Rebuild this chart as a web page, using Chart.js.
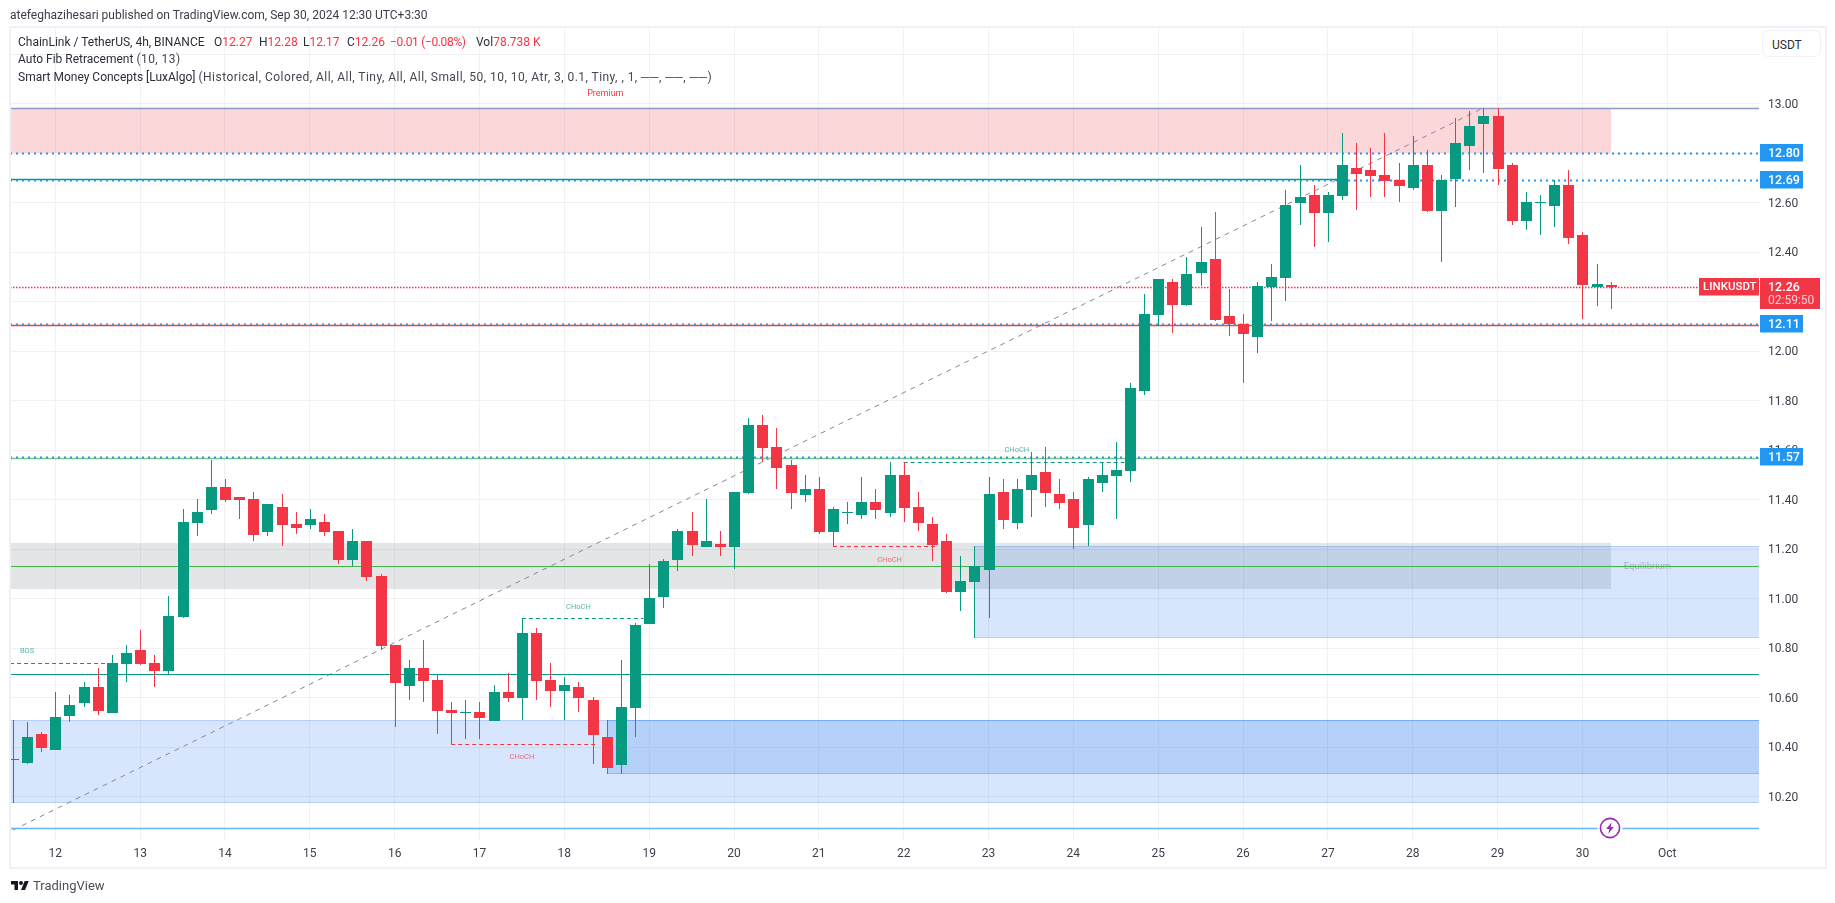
<!DOCTYPE html>
<html>
<head>
<meta charset="utf-8">
<title>LINKUSDT</title>
<script src="https://cdn.jsdelivr.net/npm/chart.js@4/dist/chart.umd.js"></script>
<style>
html,body{margin:0;padding:0;background:#fff;width:1835px;height:903px;overflow:hidden}
body{font-family:Roboto,sans-serif;color:#2a2e39;position:relative}
canvas{position:absolute;left:0;top:0}
.t{position:absolute;white-space:nowrap;font-size:12px;line-height:16px}
.r{color:#f23645}
.g{color:#434651;letter-spacing:.46px}
#frame{position:absolute;left:9px;top:26px;width:1814px;height:839px;border:2px solid #eff1f6;pointer-events:none}
#cur{position:absolute;left:1762px;top:30px;width:57px;height:25px;border:1.5px solid #eff1f6;border-radius:6px;background:#fff}
svg{position:absolute}
</style>
</head>
<body>
<canvas id="c" width="1835" height="903"></canvas>
<div id="frame"></div>
<div id="cur"></div>
<div class="t" style="left:1772px;top:37px">USDT</div>
<div class="t" style="left:10px;top:7px;color:#3a3e49">atefeghazihesari published on TradingView.com, Sep 30, 2024 12:30 UTC+3:30</div>
<div class="t" style="left:18px;top:34px">ChainLink / TetherUS, 4h, BINANCE</div>
<div class="t" style="left:214px;top:34px">O<span class="r">12.27</span></div>
<div class="t" style="left:259px;top:34px">H<span class="r">12.28</span></div>
<div class="t" style="left:303px;top:34px">L<span class="r">12.17</span></div>
<div class="t" style="left:347px;top:34px">C<span class="r">12.26</span></div>
<div class="t r" style="left:390px;top:34px;letter-spacing:-.35px">−0.01 (−0.08%)</div>
<div class="t" style="left:476px;top:34px">Vol<span class="r">78.738 K</span></div>
<div class="t" style="left:18px;top:51px">Auto Fib Retracement <span class="g">(10, 13)</span></div>
<div class="t" style="left:18px;top:69px">Smart Money Concepts [LuxAlgo] <span class="g">(Historical, Colored, All, All, Tiny, All, All, Small, 50, 10, 10, Atr, 3, 0.1, Tiny, , 1, ──, ──, ──)</span></div>
<svg style="left:10px;top:880px" width="20" height="11" viewBox="0 0 36 22"><path fill="#131722" d="M14 20H7V9H0V2h14v18zM28 20h-8l7.5-18h8L28 20z"/><circle cx="20" cy="6" r="4" fill="#131722"/></svg>
<div class="t" style="left:33px;top:878px;font-size:13px;color:#4a4e59">TradingView</div>
<svg style="left:1597px;top:815px" width="26" height="26" viewBox="0 0 26 26"><circle cx="13" cy="13" r="12.5" fill="#fff"/><circle cx="13" cy="13" r="9.6" fill="#fff" stroke="#9c27b0" stroke-width="1.6"/><path fill="#9c27b0" d="M14.6 7.2 9.2 13.9h3.2l-1.1 4.9 5.5-6.9h-3.2z"/></svg>
<script>
// Candle position counted in 4h bars from the Sep 12 gridline
const firstBar = -3;
const opens = [10.351,10.336,10.454,
 10.389,10.526,10.579,10.644,10.538,10.736,10.793,10.740,10.708,10.926,
 11.306,11.359,11.452,11.412,11.403,11.270,11.371,11.302,11.298,11.310,
 11.274,11.157,11.234,11.092,10.813,10.648,10.720,10.672,10.551,10.539,
 10.543,10.506,10.623,10.599,10.862,10.672,10.627,10.644,10.591,10.441,
 10.328,10.559,10.898,11.007,11.157,11.274,11.209,11.222,11.209,11.428,
 11.703,11.614,11.541,11.420,11.444,11.270,11.347,11.339,11.391,11.347,
 11.500,11.371,11.302,11.234,11.028,11.068,11.117,11.432,11.306,11.440,
 11.513,11.424,11.403,11.298,11.468,11.496,11.517,11.840,12.147,12.281,
 12.188,12.317,12.374,12.143,12.111,12.058,12.260,12.297,12.600,12.632,
 12.559,12.628,12.741,12.733,12.713,12.693,12.660,12.753,12.567,12.697,
 12.830,12.919,12.951,12.753,12.527,12.600,12.588,12.673,12.471,12.260,12.27];
const closes = [10.351,10.441,10.397,
 10.522,10.571,10.644,10.546,10.740,10.781,10.736,10.708,10.931,11.310,
 11.351,11.452,11.399,11.399,11.258,11.383,11.298,11.286,11.323,11.270,
 11.157,11.234,11.088,10.809,10.660,10.720,10.668,10.546,10.538,10.543,
 10.518,10.623,10.599,10.862,10.668,10.627,10.652,10.599,10.450,10.316,
 10.563,10.894,11.003,11.153,11.274,11.218,11.234,11.209,11.432,11.703,
 11.610,11.529,11.428,11.444,11.270,11.363,11.351,11.391,11.359,11.500,
 11.367,11.306,11.218,11.028,11.072,11.133,11.424,11.319,11.444,11.500,
 11.428,11.387,11.286,11.484,11.500,11.521,11.852,12.151,12.293,12.188,
 12.313,12.361,12.127,12.111,12.070,12.264,12.301,12.592,12.624,12.559,
 12.632,12.753,12.717,12.709,12.689,12.669,12.753,12.567,12.693,12.842,
 12.911,12.951,12.737,12.527,12.604,12.604,12.673,12.458,12.268,12.273,12.26];
const highs = [10.510,10.502,10.462,
 10.623,10.611,10.664,10.720,10.773,10.813,10.874,10.773,11.011,11.363,
 11.403,11.561,11.484,11.412,11.432,11.383,11.424,11.351,11.363,11.343,
 11.274,11.282,11.234,11.100,10.813,10.753,10.834,10.692,10.583,10.591,
 10.583,10.652,10.700,10.921,10.882,10.741,10.684,10.664,10.603,10.510,
 10.753,10.902,11.141,11.161,11.282,11.351,11.404,11.274,11.432,11.731,
 11.743,11.690,11.561,11.500,11.492,11.371,11.391,11.492,11.444,11.553,
 11.553,11.432,11.331,11.262,11.173,11.213,11.492,11.484,11.484,11.593,
 11.614,11.484,11.432,11.492,11.553,11.634,11.872,12.232,12.293,12.293,
 12.382,12.503,12.563,12.252,12.151,12.281,12.353,12.652,12.753,12.673,
 12.644,12.883,12.842,12.822,12.883,12.762,12.871,12.814,12.713,12.943,
 12.972,12.984,12.984,12.762,12.644,12.632,12.693,12.733,12.483,12.353,12.28];
const lows = [10.173,10.332,10.381,
 10.389,10.502,10.563,10.530,10.538,10.664,10.732,10.644,10.696,10.922,
 11.254,11.343,11.391,11.323,11.234,11.254,11.213,11.262,11.282,11.254,
 11.141,11.133,11.072,10.793,10.482,10.591,10.583,10.454,10.412,10.433,
 10.433,10.506,10.583,10.510,10.591,10.563,10.510,10.543,10.332,10.292,
 10.292,10.441,10.898,10.963,11.112,11.173,11.209,11.173,11.121,11.424,
 11.553,11.444,11.363,11.391,11.262,11.213,11.302,11.323,11.323,11.331,
 11.311,11.274,11.153,11.024,10.951,10.843,10.922,11.282,11.282,11.331,
 11.371,11.363,11.201,11.213,11.432,11.323,11.472,11.824,12.103,12.074,
 12.184,12.264,12.123,12.062,11.872,11.994,12.123,12.204,12.511,12.422,
 12.442,12.612,12.572,12.624,12.624,12.604,12.652,12.563,12.361,12.584,
 12.733,12.721,12.673,12.511,12.491,12.471,12.503,12.434,12.131,12.184,12.17];

// Time axis: each day is six 4h bars
const dayLabels = ['12','13','14','15','16','17','18','19','20','21','22','23','24','25','26','27','28','29','30','Oct'];
const barsPerDay = 6;
// Price axis
const priceTicks = [10.2,10.4,10.6,10.8,11.0,11.2,11.4,11.6,11.8,12.0,12.2,12.4,12.6,12.8,13.0,13.2];
const hiddenPriceLabels = [13.2];
// Zones, price bands
const premiumBand = [12.803,12.983];
const equilibriumBand = [11.040,11.226];
const orderBlockA = [10.843,11.212];
const orderBlockB = [10.173,10.510];
const orderBlockC = [10.293,10.510];
const zoneEndBar = 110;
const orderBlockAStart = 65;
const orderBlockCStart = 39;
// Horizontal levels
const levelBlueDotted = [12.803,12.693,12.112,11.573];
const levelBlueLabels = ['12.80','12.69','12.11','11.57'];
const levelTeal1269 = 12.696;
const levelTeal1269End = 91;
const levelRed1211 = 12.108;
const levelGreen1157 = 11.567;
const levelGreen1113 = 11.131;
const levelTeal1070 = 10.695;
const levelSky1007 = 10.072;
const levelTop = 12.983;
const lastPrice = 12.26;
// Fib trend line
const fibBars = [-3,101];
const fibPrices = [10.065,12.984];
// Structure breaks: start bar, end bar, price
const bosLine = [-3.2,4,10.739];
const chochUp1 = [33,41.6,10.921];
const chochUp2 = [60,75.6,11.551];
const chochDown1 = [28,38.4,10.412];
const chochDown2 = [55,62.4,11.212];

const GREEN='#089981', RED='#f23645', BLUE='#2196f3';
const xMin=-3.204, xMax=120.49;
const bars = opens.map((_,i)=>i+firstBar);
const colors = opens.map((o,i)=>closes[i]>=o?GREEN:RED);

function hline(y,x0,x1,color,width,dash,order){
  return {type:'line',data:[{x:x0,y},{x:x1,y}],borderColor:color,borderWidth:width,borderDash:dash||[],
    pointRadius:0,pointHoverRadius:0,tension:0,order:order||5,hline:true};
}
const lineSets = [
  hline(levelTop,xMin,xMax,'#8a9ac6',1.3),
  hline(levelTeal1269,xMin,levelTeal1269End,GREEN,1.5),
  hline(levelRed1211,xMin,xMax,'#f44336',1.5),
  hline(levelGreen1157,xMin,xMax,'#81c784',1.3),
  hline(levelGreen1113,xMin,xMax,'#43b649',1.2),
  hline(levelTeal1070,xMin,xMax,GREEN,1.1),
  hline(levelSky1007,xMin,xMax,'#64b5f6',1.3),
  hline(lastPrice,xMin,xMax,'#ff2d42',1.4,[1.5,1.5]),
  hline(bosLine[2],bosLine[0],bosLine[1],GREEN,1,[4,3]),
  hline(chochUp1[2],chochUp1[0],chochUp1[1],GREEN,1,[4,3]),
  hline(chochUp2[2],chochUp2[0],chochUp2[1],GREEN,1,[4,3]),
  hline(chochDown1[2],chochDown1[0],chochDown1[1],RED,1,[4,3]),
  hline(chochDown2[2],chochDown2[0],chochDown2[1],RED,1,[4,3]),
  {type:'line',data:fibBars.map((b,i)=>({x:b,y:fibPrices[i]})),borderColor:'#868993',borderWidth:1,borderDash:[5,5],pointRadius:0,tension:0,order:5}
];
levelBlueDotted.forEach((v,i)=>lineSets.push(hline(v,xMin,xMax,i===2?'#3d8fe0':BLUE,2,[2,4],4)));

const wickSet = {type:'bar',label:'wick',data:bars.map((b,i)=>({x:b,y:[lows[i],highs[i]]})),backgroundColor:colors,barThickness:1,grouped:false,inflateAmount:0,order:2,candle:1};
const bodySet = {type:'bar',label:'body',data:bars.map((b,i)=>({x:b,y:[opens[i],closes[i]]})),backgroundColor:colors,barThickness:11,grouped:false,inflateAmount:0,order:1,candle:11};

const snapPlugin = {id:'snap',
  afterDatasetsUpdate(chart){
    const x=chart.scales.x,y=chart.scales.y;
    chart.data.datasets.forEach((ds,di)=>{
      const meta=chart.getDatasetMeta(di);
      if(ds.candle){
        meta.data.forEach((el,i)=>{
          el.x=Math.round(x.getPixelForValue(bars[i]))+0.5;
          el.width=ds.candle;
          let a=Math.round(y.getPixelForValue(ds.data[i].y[0]));
          let b=Math.round(y.getPixelForValue(ds.data[i].y[1]));
          if(a===b)b=a+1;
          el.y=Math.min(a,b);el.base=Math.max(a,b);
        });
      } else if(ds.hline){
        meta.data.forEach(el=>{el.y=Math.round(el.y)+0.5;});
      }
    });
  }
};

const zonePlugin = {id:'zones',
  beforeDatasetsDraw(chart){
    const c=chart.ctx,x=chart.scales.x,y=chart.scales.y,a=chart.chartArea;
    function zone(b,x0,x1,fill,edge){
      const l=Math.max(a.left,Math.round(x.getPixelForValue(x0))),r=Math.min(a.right,Math.round(x.getPixelForValue(x1)));
      const t=Math.round(y.getPixelForValue(b[1])),bt=Math.round(y.getPixelForValue(b[0]));
      c.fillStyle=fill;c.fillRect(l,t,r-l,bt-t);
      if(edge){c.fillStyle=edge;c.fillRect(l,t,r-l,1);c.fillRect(l,bt-1,r-l,1);}
    }
    c.save();
    zone(premiumBand,xMin,zoneEndBar,'rgba(242,54,69,0.2)');
    zone(equilibriumBand,xMin,zoneEndBar,'rgba(120,123,134,0.2)');
    const fill='rgba(41,120,240,0.19)',edge='rgba(41,120,240,0.2)';
    zone(orderBlockA,orderBlockAStart,xMax,fill,edge);
    zone(orderBlockB,xMin,xMax,fill,edge);
    zone(orderBlockC,orderBlockCStart,xMax,fill,'rgba(41,120,240,0.28)');
    c.restore();
  }
};

const labelPlugin = {id:'labels',
  afterDraw(chart){
    const c=chart.ctx,x=chart.scales.x,y=chart.scales.y;
    c.save();
    c.textBaseline='middle';
    function small(txt,bar,price,color,size){
      c.font=size+'px Roboto';c.textAlign='center';c.fillStyle=color;
      c.fillText(txt,x.getPixelForValue(bar),y.getPixelForValue(price));
    }
    small('Premium',38.9,13.042,RED,9);
    small('BOS',-2,10.790,'rgba(8,153,129,0.7)',7.5);
    small('CHoCH',37,10.968,'rgba(8,153,129,0.7)',7.5);
    small('CHoCH',68,11.60,'rgba(8,153,129,0.7)',7.5);
    small('CHoCH',33,10.358,'rgba(242,54,69,0.7)',7.5);
    small('CHoCH',59,11.155,'rgba(242,54,69,0.7)',7.5);
    small('Equilibrium',112.6,11.131,'rgba(120,123,134,0.55)',9.5);

    function badge(txt,v,bg){
      const py=Math.round(y.getPixelForValue(v));
      c.fillStyle=bg;c.fillRect(1760,py-9,43,17.5);
      c.fillStyle='#fff';c.font='500 12.5px Roboto';c.textAlign='left';
      c.fillText(txt,1768,py+0.5);
    }
    levelBlueDotted.forEach((v,i)=>badge(levelBlueLabels[i],v,BLUE));
    const py=Math.round(y.getPixelForValue(lastPrice));
    c.fillStyle=RED;
    c.fillRect(1699,py-9,60,17.5);
    c.fillRect(1760,py-9,60,31);
    c.fillStyle='#fff';c.font='500 12.5px Roboto';c.textAlign='left';
    c.fillText('12.26',1768,py+0.5);
    c.font='500 11.5px Roboto';c.fillText('LINKUSDT',1703,py+0.5);
    c.font='12px Roboto';c.fillStyle='rgba(255,255,255,0.75)';
    c.fillText('02:59:50',1768,py+14);
    c.restore();
  }
};

new Chart(document.getElementById('c'),{
  type:'bar',
  data:{datasets:[bodySet,wickSet].concat(lineSets)},
  plugins:[snapPlugin,zonePlugin,labelPlugin],
  options:{
    responsive:false,animation:false,devicePixelRatio:1,
    layout:{padding:{left:10,top:27,right:0,bottom:0}},
    plugins:{legend:{display:false},tooltip:{enabled:false}},
    elements:{line:{capBezierPoints:false}},
    scales:{
      x:{type:'linear',min:xMin,max:xMax,offset:false,
        grid:{color:'#f0f1f4',drawTicks:false,offset:false},
        border:{display:false},
        afterBuildTicks(s){s.ticks=dayLabels.map((_,i)=>({value:i*barsPerDay}));},
        afterFit(s){s.height=63;},
        ticks:{autoSkip:false,maxRotation:0,padding:7,color:'#3b3f4a',font:{family:'Roboto',size:12},
          callback(v){return dayLabels[Math.round(v/barsPerDay)];}}
      },
      y:{type:'linear',position:'right',min:10.025,max:13.311,
        grid:{color:'#f0f1f4',drawTicks:false},
        border:{display:false},
        afterBuildTicks(s){s.ticks=priceTicks.map(v=>({value:v}));},
        afterFit(s){s.width=76;},
        ticks:{padding:9,align:'center',crossAlign:'near',labelOffset:1,color:'#3b3f4a',font:{family:'Roboto',size:12},
          callback(v){return hiddenPriceLabels.includes(v)?'':v.toFixed(2);}}
      }
    }
  }
});
</script>
</body>
</html>
